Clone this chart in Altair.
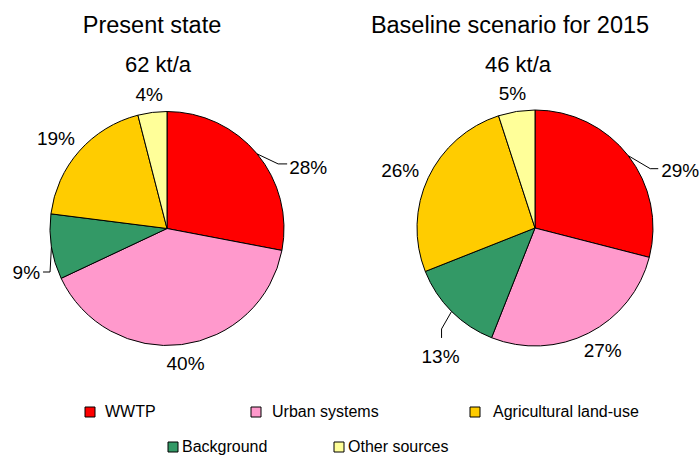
import math
import altair as alt
import pandas as pd

# ---------------- data ----------------
categories = ["WWTP", "Urban systems", "Background", "Agricultural land-use", "Other sources"]
present_values = [28, 40, 9, 19, 4]
baseline_values = [29, 27, 13, 26, 5]
pie_titles = ["Present state", "Baseline scenario for 2015"]
pie_totals = ["62 kt/a", "46 kt/a"]
colors = ["#FF0000", "#FF99CC", "#339966", "#FFCC00", "#FFFF99"]
legend_order = ["WWTP", "Urban systems", "Agricultural land-use", "Background", "Other sources"]

# ---------------- layout ----------------
W, H = 700, 456
FONT = "Liberation Sans"
pie_cx = [167, 535]
pie_cy = [228.5, 228]
pie_r = [117, 118]
title_x = [152, 510]
title_y = 33
sub_x = [158, 518]
sub_y = 72
LABEL_FS = 19
LABEL_GAP = 12
# leader lines: elbow offset from edge point, end offset from elbow, text offset from end
leaders = {
    (0, "WWTP"): dict(elbow=(21, 10), end=(9, 0), text=(2, 10), anchor="left"),
    (0, "Background"): dict(elbow=(-1.4, 25.2), end=(-7, 0), text=(-3, 7), anchor="right"),
    (1, "WWTP"): dict(elbow=(22, 13), end=(8, 0), text=(3, 8), anchor="left"),
    (1, "Background"): dict(elbow=(-10, 17.5), end=(0, 9), text=(-1, 25), anchor="center"),
}
legend_sq_x = [90, 256, 475, 173, 339]
legend_sq_y = [412, 412, 412, 447, 447]
legend_tx = [105, 272, 493, 182, 348]
legend_ty = [417, 417, 417, 452, 452]

# ---------------- build tables ----------------
slices, labels, lines = [], [], []
for p, vals in enumerate([present_values, baseline_values]):
    total = sum(vals)
    cum = 0
    cx, cy, R = pie_cx[p], pie_cy[p], pie_r[p]
    for i, (cat, v) in enumerate(zip(categories, vals)):
        slices.append(dict(pie=p, idx=i, category=cat, value=v))
        mid = math.radians((cum + v / 2) / total * 360)
        cum += v
        ux, uy = math.sin(mid), -math.cos(mid)
        txt = f"{v}%"
        key = (p, cat)
        if key in leaders:
            L = leaders[key]
            ex, ey = cx + R * ux, cy + R * uy
            bx, by = ex + L["elbow"][0], ey + L["elbow"][1]
            nx, ny = bx + L["end"][0], by + L["end"][1]
            for k, (px, py) in enumerate([(ex, ey), (bx, by), (nx, ny)]):
                lines.append(dict(lid=f"{p}-{i}", k=k, lx=px, ly=py))
            labels.append(dict(text=txt, tx=nx + L["text"][0], ty=ny + L["text"][1], anchor=L["anchor"]))
        else:
            w = LABEL_FS * (0.556 * (len(txt) - 1) + 0.889)
            h = 0.716 * LABEL_FS
            ccx = cx + (R + LABEL_GAP) * ux + w / 2 * ux
            ccy = cy + (R + LABEL_GAP) * uy + h / 2 * uy
            labels.append(dict(text=txt, tx=ccx, ty=ccy + h / 2, anchor="center"))

slice_df = pd.DataFrame(slices)
label_df = pd.DataFrame(labels)
line_df = pd.DataFrame(lines)
title_df = pd.DataFrame(dict(text=pie_titles, tx=title_x, ty=[title_y] * 2))
sub_df = pd.DataFrame(dict(text=pie_totals, tx=sub_x, ty=[sub_y] * 2))
legend_df = pd.DataFrame(dict(category=legend_order, sx=legend_sq_x, sy=legend_sq_y,
                              tx=legend_tx, ty=legend_ty))

xs = alt.Scale(domain=[0, W], nice=False, zero=False)
ys = alt.Scale(domain=[0, H], nice=False, zero=False, reverse=True)
fill_scale = alt.Scale(domain=categories, range=colors)

arc_layers = []
for p in range(2):
    arc_layers.append(
        alt.Chart(slice_df[slice_df["pie"] == p]).mark_arc(
            radius=pie_r[p], stroke="black", strokeWidth=1
        ).encode(
            theta=alt.Theta("value:Q", stack=True),
            fill=alt.Fill("category:N", scale=fill_scale, legend=None),
            order=alt.Order("idx:Q", sort="ascending"),
            x=alt.value(pie_cx[p]),
            y=alt.value(pie_cy[p]),
        )
    )

line_layer = alt.Chart(line_df).mark_line(color="black", strokeWidth=1).encode(
    x=alt.X("lx:Q", scale=xs, axis=None),
    y=alt.Y("ly:Q", scale=ys, axis=None),
    detail="lid:N",
    order="k:Q",
)

label_layers = []
for al in ["left", "center", "right"]:
    sub = label_df[label_df["anchor"] == al]
    if len(sub):
        label_layers.append(
            alt.Chart(sub).mark_text(font=FONT, fontSize=LABEL_FS, align=al, baseline="alphabetic", color="black").encode(
                x=alt.X("tx:Q", scale=xs, axis=None),
                y=alt.Y("ty:Q", scale=ys, axis=None),
                text="text:N",
            )
        )

title_layer = alt.Chart(title_df).mark_text(font=FONT, fontSize=23.5, align="center", baseline="alphabetic", color="black").encode(
    x=alt.X("tx:Q", scale=xs, axis=None), y=alt.Y("ty:Q", scale=ys, axis=None), text="text:N")
sub_layer = alt.Chart(sub_df).mark_text(font=FONT, fontSize=22, align="center", baseline="alphabetic", color="black").encode(
    x=alt.X("tx:Q", scale=xs, axis=None), y=alt.Y("ty:Q", scale=ys, axis=None), text="text:N")

legend_sq = alt.Chart(legend_df).mark_square(size=100, stroke="black", strokeWidth=1, opacity=1).encode(
    x=alt.X("sx:Q", scale=xs, axis=None), y=alt.Y("sy:Q", scale=ys, axis=None),
    fill=alt.Fill("category:N", scale=fill_scale, legend=None))
legend_txt = alt.Chart(legend_df).mark_text(font=FONT, fontSize=16, align="left", baseline="alphabetic", color="black").encode(
    x=alt.X("tx:Q", scale=xs, axis=None), y=alt.Y("ty:Q", scale=ys, axis=None), text="category:N")

chart = alt.layer(
    *arc_layers, line_layer, *label_layers, title_layer, sub_layer, legend_sq, legend_txt
).resolve_scale(theta="independent").properties(
    width=W, height=H, autosize=alt.AutoSizeParams(type="none"), padding=0
).configure(background="white", view=alt.ViewConfig(stroke=None))

chart.save("out.html", embed_options={"renderer": "svg", "actions": False})
